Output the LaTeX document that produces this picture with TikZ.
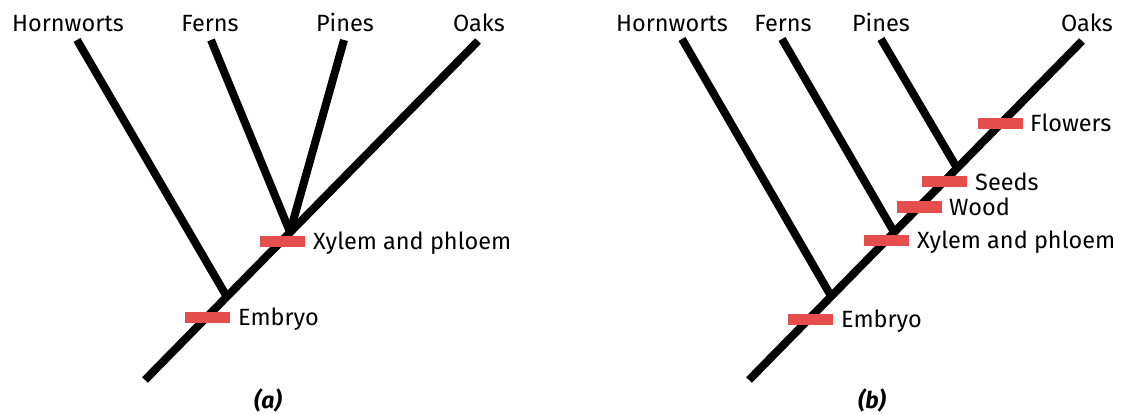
\documentclass[tikz,border=0pt]{standalone}
\usepackage{fontspec}
\setmainfont{Fira Sans}
\definecolor{barred}{RGB}{230,78,78}
\begin{document}
\begin{tikzpicture}[x=1pt,y=-1pt,
  branch/.style={line width=8pt, black},
  bar/.style={fill=barred, draw=none, minimum width=45pt, minimum height=11pt, inner sep=0pt},
  taxon/.style={font=\fontsize{23.5}{23.5}\selectfont, anchor=base, inner sep=0pt},
  trait/.style={font=\fontsize{23.5}{23.5}\selectfont, anchor=base west, inner sep=0pt},
  panel/.style={font=\fontsize{23}{23}\selectfont\bfseries\itshape, inner sep=0pt}]
\useasboundingbox (0,0) rectangle (1121,414);
% ---------- panel (a) ----------
\node[taxon] (aH) at (68,32) {Hornworts};
\node[taxon] (aF) at (210,32) {Ferns};
\node[taxon] (aP) at (345,32) {Pines};
\node[taxon] (aO) at (479,32) {Oaks};
\coordinate (aRoot) at (145,380);
\coordinate (aHt) at (77,40);
\coordinate (aFt) at (211,40);
\coordinate (aPt) at (344,40);
\coordinate (aOt) at (478,41);
\coordinate (aJH) at (227,297);
\coordinate (aJ) at (290,232);
\draw[branch] (aRoot) -- (aOt);
\draw[branch] (aHt) -- (aJH);
\draw[branch] (aFt) -- (aJ);
\draw[branch] (aPt) -- (aJ);
\node[bar] (aEmb) at (207,317) {};
\node[bar] (aXyl) at (282,241) {};
\node[trait] (aEmbT) at (238,325) {Embryo};
\node[trait] (aXylT) at (313,249) {Xylem and phloem};
\node[panel] (aLab) at (268,400) {(a)};
% ---------- panel (b) ----------
\node[taxon] (bH) at (672,32) {Hornworts};
\node[taxon] (bF) at (783,32) {Ferns};
\node[taxon] (bP) at (881,32) {Pines};
\node[taxon] (bO) at (1087,32) {Oaks};
\coordinate (bRoot) at (749,380);
\coordinate (bHt) at (682,39);
\coordinate (bFt) at (782,39);
\coordinate (bPt) at (881,39);
\coordinate (bOt) at (1082,41);
\coordinate (bJH) at (831,296);
\coordinate (bJF) at (894,232);
\coordinate (bJP) at (957,168);
\draw[branch] (bRoot) -- (bOt);
\draw[branch] (bHt) -- (bJH);
\draw[branch] (bFt) -- (bJF);
\draw[branch] (bPt) -- (bJP);
\node[bar] (bEmb) at (810,319) {};
\node[bar] (bXyl) at (886,240) {};
\node[bar] (bWood) at (919,207) {};
\node[bar] (bSeed) at (944,182) {};
\node[bar] (bFlow) at (1000,124) {};
\node[trait] (bEmbT) at (841,327) {Embryo};
\node[trait] (bXylT) at (917,248) {Xylem and phloem};
\node[trait] (bWoodT) at (949,215) {Wood};
\node[trait] (bSeedT) at (975,190) {Seeds};
\node[trait] (bFlowT) at (1030,132) {Flowers};
\node[panel] (bLab) at (872,400) {(b)};
\end{tikzpicture}
\end{document}
